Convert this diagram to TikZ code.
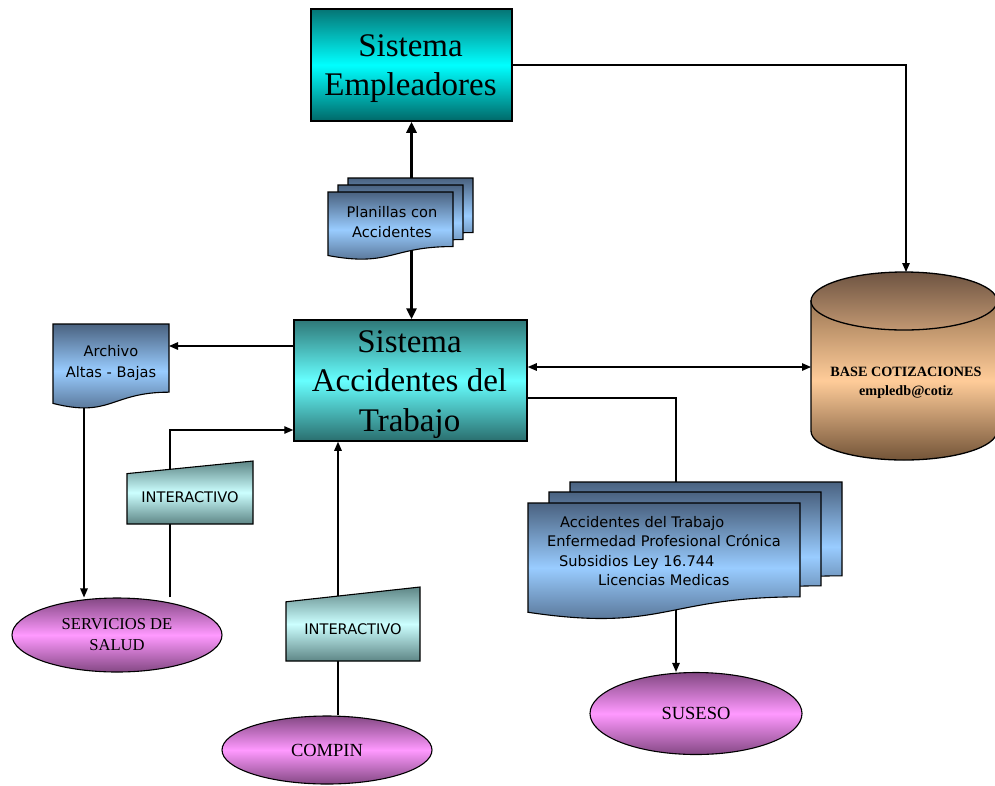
\documentclass[tikz,border=0pt]{standalone}
\usepackage{fontspec}
\setmainfont{Liberation Serif}
\newfontfamily\verd{DejaVu Sans}
\usetikzlibrary{arrows.meta,shapes.geometric}
\pgfdeclarelayer{back}
\pgfsetlayers{back,main}

\definecolor{empTop}{HTML}{057575}
\definecolor{empMid}{HTML}{00FFFF}
\definecolor{empBot}{HTML}{006868}
\definecolor{satTop}{HTML}{2F7878}
\definecolor{satMid}{HTML}{66FFFF}
\definecolor{satBot}{HTML}{2A6E6E}
\definecolor{docDark}{HTML}{4A6280}
\definecolor{docLight}{HTML}{99CCFF}
\definecolor{manDark}{HTML}{5E8686}
\definecolor{manLight}{HTML}{CCFFFF}
\definecolor{ellDark}{HTML}{844884}
\definecolor{ellLight}{HTML}{FF99FF}
\definecolor{cylDark}{HTML}{735438}
\definecolor{cylLight}{HTML}{FFCC99}
\definecolor{capTop}{HTML}{6E5442}
\definecolor{capBot}{HTML}{C29872}

\tikzset{
  sysbox/.style={draw=black, line width=1.5pt, inner sep=0pt},
  systext/.style={align=center, inner sep=0pt, font=\fontsize{33}{39.5}\selectfont},
  docfill/.style={draw=black, line width=1.1pt, top color=docDark,
    bottom color=docDark, middle color=docLight},
  manfill/.style={draw=black, line width=1.1pt, top color=manDark,
    bottom color=manDark, middle color=manLight},
  doctext/.style={align=center, inner sep=0pt, font=\verd\fontsize{14.6}{19.5}\selectfont},
  ellnode/.style={ellipse, draw=black, line width=1.1pt, top color=ellDark,
    bottom color=ellDark, middle color=ellLight, inner sep=0pt, align=center,
    font=\fontsize{18.5}{21}\selectfont},
  conn/.style={line width=1.3pt, -{Triangle[length=9pt,width=7.5pt]}},
  dconn/.style={line width=1.3pt, {Triangle[length=9pt,width=7.5pt]}-{Triangle[length=9pt,width=7.5pt]}},
  bigconn/.style={line width=3.5pt, {Triangle[length=11pt,width=10pt]}-{Triangle[length=11pt,width=10pt]}},
}

% flowchart document: wavy bottom edge
\newcommand\DocShape[4]{\path[docfill] (#1,#2) -- ({#1+#3},#2) -- ({#1+#3},{#2+0.802*#4})
  .. controls ({#1+0.5*#3},{#2+0.802*#4}) and ({#1+0.5*#3},{#2+1.107*#4}) .. (#1,{#2+0.934*#4}) -- cycle;}
% flowchart manual input: slanted top edge
\newcommand\ManShape[4]{\path[manfill] (#1,{#2+0.2*#4}) -- ({#1+#3},#2) -- ({#1+#3},{#2+#4}) -- (#1,{#2+#4}) -- cycle;}

\begin{document}
\begin{tikzpicture}[x=1pt,y=-1pt]
\useasboundingbox (0,0) rectangle (995,785);

% main systems
\node[sysbox, minimum width=201pt, minimum height=112pt,
  top color=empTop, bottom color=empBot, middle color=empMid] (emp) at (411.5,65) {};
\node[systext] (empText) at (410.5,68.5) {Sistema\\Empleadores};
\node[sysbox, minimum width=233pt, minimum height=121pt,
  top color=satTop, bottom color=satBot, middle color=satMid] (sat) at (410.5,380.5) {};
\node[systext] (satText) at (409.5,384.5) {Sistema\\Accidentes del\\Trabajo};

% planillas document stack
\DocShape{348}{178}{125}{68}
\DocShape{338}{185}{125}{68}
\DocShape{328}{192}{125}{68}
\node[doctext] (plan) at (392,222) {Planillas con\\Accidentes};

% archivo document
\DocShape{53}{324}{116}{85}
\node[doctext, font=\verd\fontsize{14.6}{21}\selectfont] (arch) at (111,362.5) {Archivo\\Altas - Bajas};
\coordinate (archR) at (169,346);
\coordinate (archB) at (84,400);

% output document stack
\DocShape{570}{482}{272}{117}
\DocShape{549}{492}{272}{117}
\DocShape{528}{503}{272}{117}
\node[doctext, align=left, anchor=west] (sus) at (547,551) {\hspace*{13pt}Accidentes del Trabajo\\Enfermedad Profesional Crónica\\\hspace*{12pt}Subsidios Ley 16.744\\\hspace*{51pt}Licencias Medicas};
\coordinate (susJ) at (676,398);

% manual inputs
\ManShape{127}{461}{126}{63}
\node[doctext] (int1) at (190,497.5) {INTERACTIVO};
\coordinate (intJ) at (170,430);
\ManShape{286}{587}{134}{74}
\node[doctext] (int2) at (353,629) {INTERACTIVO};
\coordinate (compX) at (338,600);

% external entities
\node[ellnode, minimum width=210pt, minimum height=74pt,
  font=\fontsize{16.6}{21}\selectfont] (salud) at (117,635) {SERVICIOS DE\\SALUD};
\node[ellnode, minimum width=210pt, minimum height=68pt] (compin) at (327,750) {COMPIN};
\node[ellnode, minimum width=212pt, minimum height=82pt] (suseso) at (696,713.5) {SUSESO};

% database cylinder
\path[draw=black, line width=1.3pt, top color=cylDark!70!cylLight, bottom color=cylDark, middle color=cylLight]
  (811,301) -- (811,431) .. controls (811,447) and (852.7,460) .. (904,460)
  .. controls (955.3,460) and (997,447) .. (997,431) -- (997,301) -- cycle;
\path[draw=black, line width=1.3pt, top color=capTop, bottom color=capBot]
  (904,301) ellipse [x radius=93, y radius=29];
\node[align=center, inner sep=0pt, font=\bfseries\fontsize{14.2}{18.5}\selectfont] (db) at (906,383) {BASE COTIZACIONES\\empledb@cotiz};
\coordinate (dbTop) at (906,272);
\coordinate (dbLeft) at (811,367);

% connectors
\begin{pgfonlayer}{back}
\draw[bigconn] (emp.south) -- (emp.south |- sat.north);
\draw[conn] (emp.east) -| (dbTop);
\draw[dconn] (sat.east |- dbLeft) -- (dbLeft);
\draw[conn] (sat.west |- archR) -- (archR);
\draw[conn] (archB) -- (archB |- salud.north);
\draw[conn] (intJ |- salud.north) -- (intJ) -- (intJ -| sat.west);
\draw[conn] (compX |- compin.north) -- (compX |- sat.south);
\draw[conn] (sat.east |- susJ) -| (susJ |- suseso.north);
\end{pgfonlayer}
\end{tikzpicture}
\end{document}
